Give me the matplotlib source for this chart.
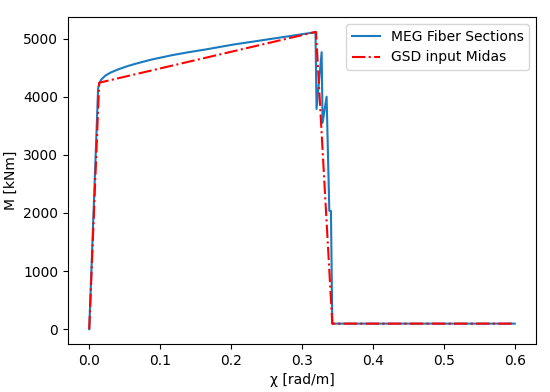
import numpy as np
import matplotlib
matplotlib.use('Agg')
import matplotlib.pyplot as plt

# MEG fiber section moment-curvature
chi_meg = [0.0, 0.0125, 0.0146, 0.0170, 0.0225, 0.0300, 0.0413, 0.0530, 0.0648,
           0.0883, 0.1164, 0.1400, 0.1634, 0.2033, 0.2503, 0.2972, 0.3190,
           0.3205, 0.3277, 0.3290, 0.3347, 0.3385, 0.3408, 0.3427, 0.6]
m_meg = [0.0, 4150., 4238., 4295., 4360., 4415., 4472., 4522., 4565.,
         4640., 4713., 4765., 4811., 4897., 4983., 5069., 5110.,
         3790., 4765., 3550., 4000., 2035., 2035., 95., 95.]

# GSD input Midas (multilinear)
chi_gsd = [0.0, 0.0140, 0.3197, 0.3427, 0.6]
m_gsd = [0.0, 4240., 5115., 95., 95.]


def main():
    fig = plt.figure(figsize=(5.5, 3.92), dpi=100)
    ax = fig.add_axes([0.1236, 0.1224, 0.851, 0.8342])
    ax.plot(chi_meg, m_meg, '-', color='#1a7abf', lw=1.5, label='MEG Fiber Sections')
    ax.plot(chi_gsd, m_gsd, '-.', color='red', lw=1.5, label='GSD input Midas')
    ax.set_xlabel(u'\u03c7 [rad/m]')
    ax.set_ylabel('M [kNm]')
    ax.set_xticks(np.arange(0, 0.61, 0.1))
    ax.set_yticks([0, 1000, 2000, 3000, 4000, 5000])
    ax.legend(loc='upper right')
    fig.savefig('out.png', dpi=100)


if __name__ == '__main__':
    main()
